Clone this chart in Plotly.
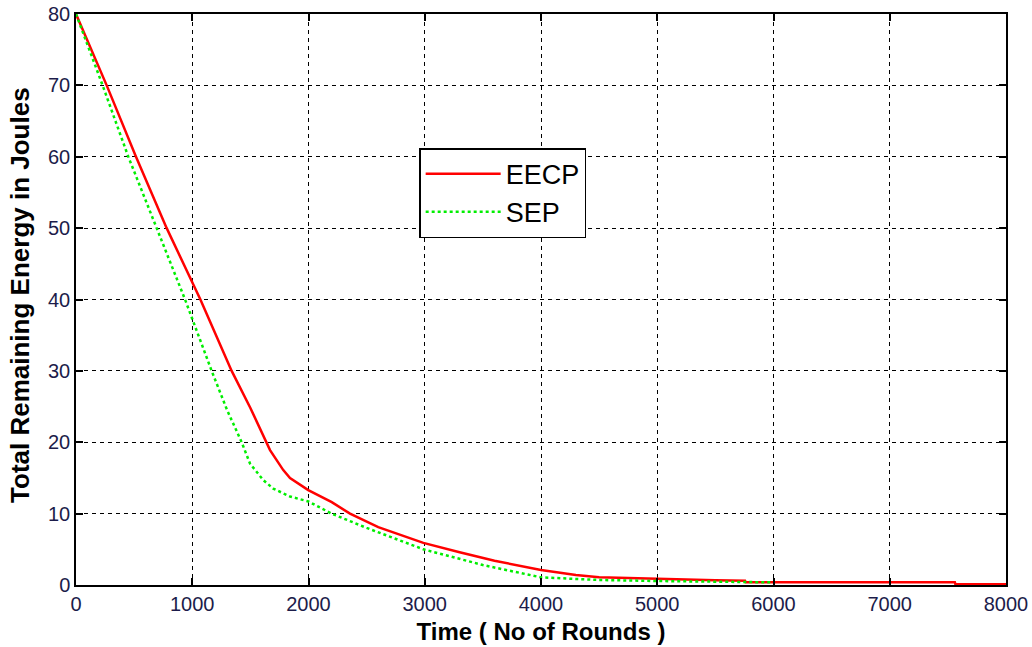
import plotly.graph_objects as go

eecp_x = [0, 100, 264, 516, 780, 1070, 1339, 1500, 1640, 1669, 1726, 1783, 1841, 1927, 1998, 2200, 2357, 2600, 2988, 3300, 3600, 4000, 4300, 4500, 5000, 5500, 5755, 5760, 7560, 7565, 8000]
eecp_y = [80, 76.2, 70, 60, 50, 40, 30, 24.8, 20, 18.9, 17.5, 16.1, 15.0, 14.0, 13.3, 11.6, 10, 8.1, 5.9, 4.6, 3.4, 2.1, 1.4, 1.07, 0.84, 0.65, 0.6, 0.37, 0.37, 0.1, 0.1]

sep_x = [0, 229, 450, 694, 938, 1167, 1300, 1425, 1497, 1611, 1697, 1841, 2000, 2199, 2500, 2988, 3500, 4000, 4500, 5000, 5500, 5996]
sep_y = [80, 70, 60, 50, 40, 30, 24.5, 20, 17.0, 14.7, 13.5, 12.4, 11.7, 10, 8, 5.0, 2.8, 1.07, 0.7, 0.56, 0.45, 0.37]

x_ticks = [0, 1000, 2000, 3000, 4000, 5000, 6000, 7000, 8000]
y_ticks = [0, 10, 20, 30, 40, 50, 60, 70, 80]

fig = go.Figure()
fig.add_trace(go.Scatter(x=eecp_x, y=eecp_y, mode="lines", name="EECP",
                         line=dict(color="#ff0000", width=2.5)))
fig.add_trace(go.Scatter(x=sep_x, y=sep_y, mode="lines", name="SEP",
                         line=dict(color="#00ee00", width=2.5, dash="dot")))

axis_common = dict(
    showline=True, linecolor="black", linewidth=1.5, mirror="ticks",
    showgrid=True, gridcolor="black", gridwidth=1, griddash="4px,4px",
    ticks="inside", ticklen=7, tickcolor="black", tickwidth=1.5,
    zeroline=False, automargin=False,
    tickfont=dict(family="Arial, Liberation Sans", size=20, color="#1c1c4a"),
)

fig.update_xaxes(range=[0, 8000], tickvals=x_ticks, ticktext=[str(v) for v in x_ticks],
                 title=dict(text="<b>Time ( No of Rounds )</b>",
                            font=dict(family="Arial, Liberation Sans", size=24, color="black"),
                            standoff=9),
                 **axis_common)
fig.update_yaxes(range=[0, 80], tickvals=y_ticks, ticktext=[str(v) for v in y_ticks],
                 **axis_common)

fig.add_annotation(text="<b>Total Remaining Energy in Joules</b>",
                   xref="paper", yref="paper", x=-0.0602, y=0.508,
                   xanchor="center", yanchor="middle", textangle=-90, showarrow=False,
                   font=dict(family="Arial, Liberation Sans", size=26, color="black"))

fig.update_layout(
    width=1032, height=647,
    margin=dict(l=76, r=26, t=14, b=62),
    plot_bgcolor="white", paper_bgcolor="white",
    showlegend=True,
    legend=dict(x=0.369, y=0.765, xanchor="left", yanchor="top",
                bgcolor="white", bordercolor="black", borderwidth=1.5,
                font=dict(family="Arial, Liberation Sans", size=27, color="black"),
                itemwidth=75, tracegroupgap=0),
)

fig.write_html("out.html")
